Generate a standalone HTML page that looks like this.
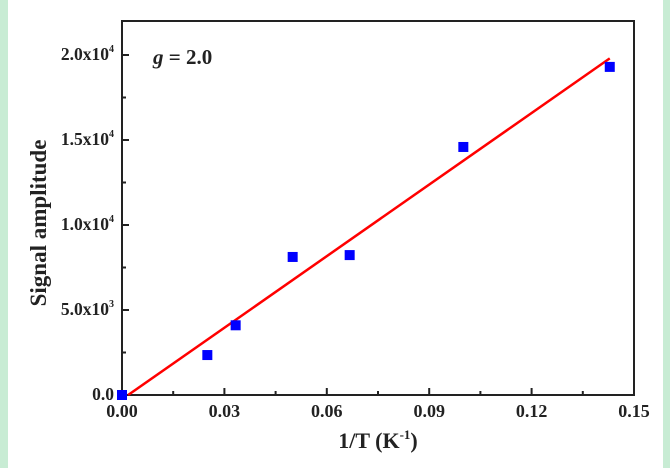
<!DOCTYPE html>
<html><head><meta charset="utf-8"><style>
html,body{margin:0;padding:0;background:#fff}
body{width:670px;height:468px;overflow:hidden;position:relative}
svg{position:absolute;left:0;top:0}
text{font-family:"Liberation Serif",serif;font-weight:bold;fill:#222}
</style></head><body>
<svg width="670" height="468">
<rect x="0" y="0" width="8" height="468" fill="#c8ecd4"/>
<rect x="663" y="0" width="7" height="468" fill="#c8ecd4"/>
<g id="plot"></g>
</svg>
<script>
const xTicks=[0,0.03,0.06,0.09,0.12,0.15];
const xTickLabels=["0.00","0.03","0.06","0.09","0.12","0.15"];
const yTicks=[0,5000,10000,15000,20000];
const yTickLabels=[["0.0",""],["5.0x10","3"],["1.0x10","4"],["1.5x10","4"],["2.0x10","4"]];
const xData=[0,0.025,0.0333,0.05,0.0667,0.1,0.1429];
const yData=[0,2350,4100,8120,8230,14590,19300];
const fitX=[0.0018,0.1429];
const fitY=[0,19800];
const X0=122,X1=634,Y0=395,Y1=21,XMAX=0.15,YMAX=22000;
const sx=v=>X0+(v/XMAX)*(X1-X0);
const sy=v=>Y0-(v/YMAX)*(Y0-Y1);
const NS="http://www.w3.org/2000/svg";
const g=document.getElementById('plot');
function mk(t,a,p){const e=document.createElementNS(NS,t);for(const k in a)e.setAttribute(k,a[k]);(p||g).appendChild(e);return e;}
const frame=mk('rect',{x:X0,y:Y1,width:X1-X0,height:Y0-Y1,fill:'none',stroke:'#222','stroke-width':2});


xTicks.forEach((v,i)=>{
  const x=sx(v);
  const t=mk('line',{x1:x,x2:x,y1:Y0,y2:Y0-7,stroke:'#222','stroke-width':2});
  
  
  if(i<xTicks.length-1){const m=sx(v+0.015);const mt=mk('line',{x1:m,x2:m,y1:Y0,y2:Y0-4,stroke:'#222','stroke-width':2});
  
  }
  const l=mk('text',{x:x,y:Y0+22,'text-anchor':'middle','font-size':18});
  l.textContent=xTickLabels[i];
  
  
});
yTicks.forEach((v,i)=>{
  const y=sy(v);
  const t=mk('line',{x1:X0,x2:X0+7,y1:y,y2:y,stroke:'#222','stroke-width':2});
  
  
  const m=sy(v+2500);if(m>Y1+2){const mt=mk('line',{x1:X0,x2:X0+4,y1:m,y2:m,stroke:'#222','stroke-width':2});
  
  }
  const l=mk('text',{x:X0-8,y:y+5,'text-anchor':'end','font-size':17.5});
  
  
  l.appendChild(document.createTextNode(yTickLabels[i][0]));
  if(yTickLabels[i][1]){const s=mk('tspan',{'font-size':10,dy:-8},l);s.textContent=yTickLabels[i][1];}
});
const fit=mk('line',{x1:sx(fitX[0]),y1:sy(fitY[0]),x2:sx(fitX[1]),y2:sy(fitY[1]),stroke:'#ff0000','stroke-width':2.5});


xData.forEach((v,i)=>{
  const x=sx(v),y=sy(yData[i]);
  const r=mk('rect',{x:x-5,y:y-5,width:10,height:10,fill:'#0000ff'});
  
  
});
const gl=mk('text',{x:153,y:64,'font-size':21});


const gi=mk('tspan',{'font-style':'italic'},gl);gi.textContent='g';
gl.appendChild(document.createTextNode(' = 2.0'));
const xt=mk('text',{x:378,y:448,'text-anchor':'middle','font-size':22});


xt.appendChild(document.createTextNode('1/T (K'));
const sup=mk('tspan',{'font-size':13,dy:-9},xt);sup.textContent='-1';
const cl=mk('tspan',{dy:9},xt);cl.textContent=')';
const yt=mk('text',{x:0,y:0,'text-anchor':'middle','font-size':23,transform:'translate(46,223) rotate(-90)'});
yt.textContent='Signal amplitude';


</script>
</body></html>
